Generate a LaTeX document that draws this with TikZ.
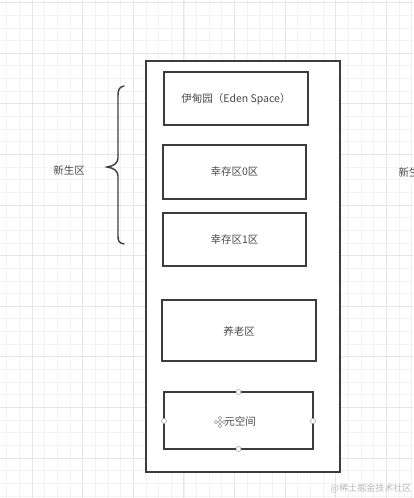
\documentclass[tikz,border=0pt]{standalone}
\usepackage{fontspec}
\newfontfamily\cjk{Noto Sans CJK SC}
\definecolor{boxline}{HTML}{3C3C3C}
\definecolor{txt}{HTML}{4A4A4A}
\definecolor{gridminor}{HTML}{F3F3F3}
\definecolor{gridmajor}{HTML}{E6E6E6}
\begin{document}
\begin{tikzpicture}[x=1pt,y=-1pt,
  region/.style={draw=boxline,line width=1.6pt,fill=white,minimum width=#1,inner sep=0pt},
  lbl/.style={font=\cjk\fontsize{10.5}{12}\selectfont,text=txt},
  handle/.style={circle,draw=gray!70,fill=white,line width=0.6pt,minimum size=5pt,inner sep=0pt},
  cursordot/.style={circle,draw=gray!80,fill=white,line width=0.5pt,minimum size=3.4pt,inner sep=0pt}]
\useasboundingbox (0,0) rectangle (413,498);
\clip (0,0) rectangle (413,498);
\fill[white] (0,0) rectangle (413,498);
% grid
\foreach \i in {0,...,33} {
  \draw[gridminor,line width=0.6pt] ({6.7+12.65*\i},0) -- ({6.7+12.65*\i},498);
}
\foreach \i in {0,...,39} {
  \draw[gridminor,line width=0.6pt] (0,{2.5+12.65*\i}) -- (413,{2.5+12.65*\i});
}
\foreach \i in {0,...,8} {
  \draw[gridmajor,line width=0.7pt] ({32+50.6*\i},0) -- ({32+50.6*\i},498);
}
\foreach \i in {0,...,9} {
  \draw[gridmajor,line width=0.7pt] (0,{2.5+50.6*\i}) -- (413,{2.5+50.6*\i});
}
% outer box
\draw[boxline,line width=1.6pt,fill=white] (146,61) rectangle (340,472);
\coordinate (outer) at (243,266);
% inner boxes
\draw[boxline,line width=1.6pt,fill=white] (164,72) rectangle (308,125);
\node[lbl] (eden) at (236,99) {伊甸园（Eden Space）};
\draw[boxline,line width=1.6pt,fill=white] (163,145) rectangle (306,199);
\node[lbl] (s0) at (234.5,172) {幸存区0区};
\draw[boxline,line width=1.6pt,fill=white] (163,213) rectangle (306,266);
\node[lbl] (s1) at (234.5,240) {幸存区1区};
\draw[boxline,line width=1.6pt,fill=white] (162,300) rectangle (316,361);
\node[lbl] (old) at (239,331) {养老区};
\draw[boxline,line width=1.6pt,fill=white] (164,392) rectangle (313,449);
\node[lbl] (meta) at (240,421) {元空间};
% selection handles
\node[handle] (ht) at (238.5,392) {};
\node[handle] (hb) at (238.5,449) {};
\node[handle] (hl) at (164,421) {};
\node[handle] (hr) at (313,421) {};
% move cursor
\node[cursordot] (c1) at (216,422) {};
\node[cursordot] (c2) at (224,422) {};
\node[cursordot] (c3) at (220,418) {};
\node[cursordot] (c4) at (220,426) {};
\node[cursordot] (c0) at (220,422) {};
% brace
\draw[boxline,line width=1.4pt,line cap=round]
  (124,86) .. controls (119,87) and (118,90) .. (118,96)
  -- (118,158) .. controls (118,163) and (114,166) .. (107,167)
  .. controls (114,168) and (118,171) .. (118,176)
  -- (118,236) .. controls (118,241) and (119,243) .. (124,244);
\node[lbl] (young) at (69,170) {新生区};
\node[lbl,anchor=west] (young2) at (395,172) {新生区};
% watermark
\node[font=\cjk\fontsize{9}{10}\selectfont,text=gray!55] (wm) at (371,488) {@稀土掘金技术社区};
\end{tikzpicture}
\end{document}
